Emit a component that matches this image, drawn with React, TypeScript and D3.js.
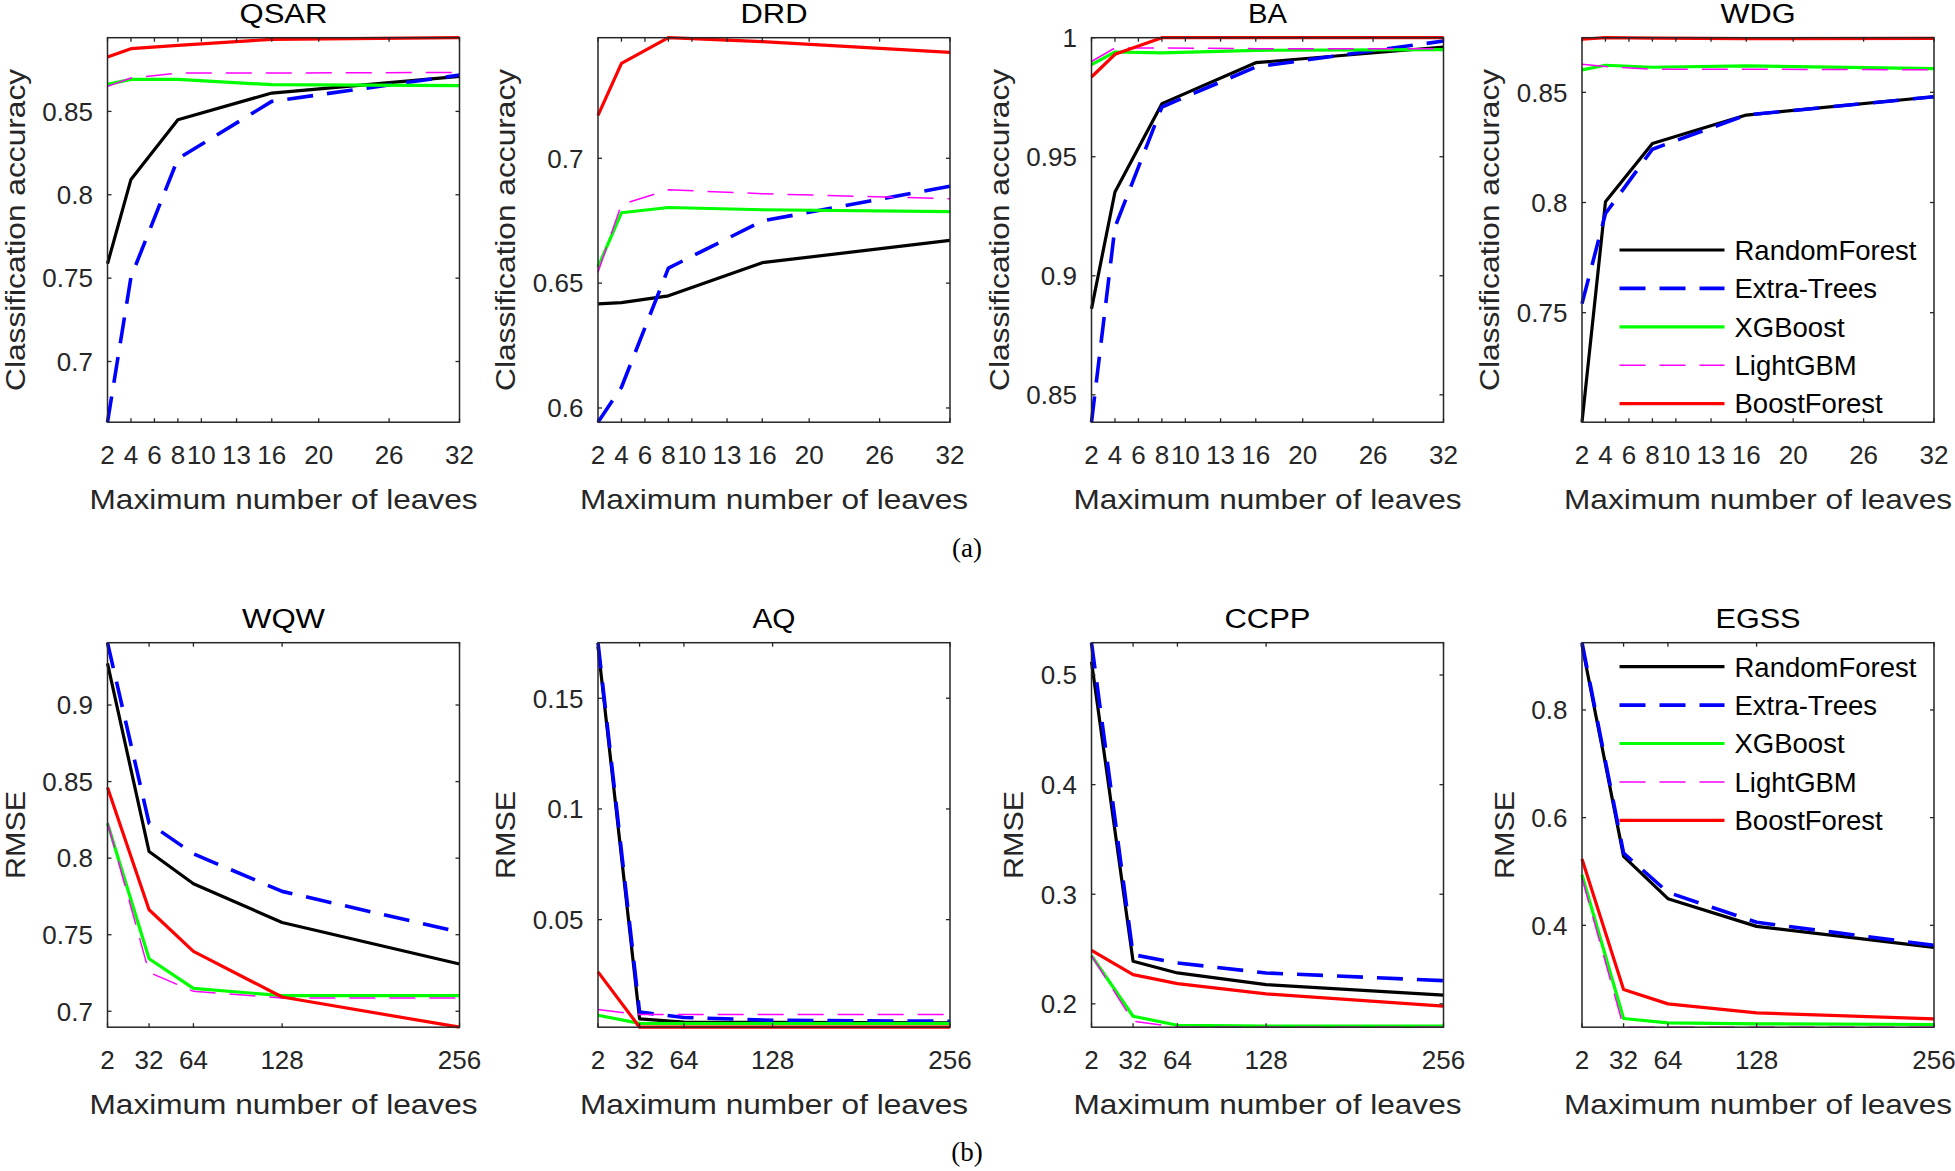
import React from "react";
import * as d3 from "d3";

// ---------- data ----------
const seriesNames = ["RandomForest", "Extra-Trees", "XGBoost", "LightGBM", "BoostForest"];
const leavesA = [2, 4, 8, 16, 32];
const leavesB = [2, 32, 64, 128, 256];
const xTicksA = [2, 4, 6, 8, 10, 13, 16, 20, 26, 32];
const xTicksB = [2, 32, 64, 128, 256];

const qsarRF = [0.7586, 0.8092, 0.845, 0.861, 0.871];
const qsarET = [0.6636, 0.7506, 0.8216, 0.856, 0.8718];
const qsarXGB = [0.8662, 0.8692, 0.8692, 0.866, 0.8654];
const qsarLGBM = [0.865, 0.870, 0.873, 0.873, 0.8734];
const qsarBF = [0.8826, 0.8876, 0.8896, 0.8932, 0.8942];
const qsarYTicks = [0.7, 0.75, 0.8, 0.85];

const drdRF = [0.6417, 0.6422, 0.6449, 0.6582, 0.6671];
const drdET = [0.5943, 0.6083, 0.656, 0.6749, 0.6888];
const drdXGB = [0.6564, 0.6782, 0.6803, 0.6794, 0.6786];
const drdLGBM = [0.6544, 0.6815, 0.6874, 0.6858, 0.6838];
const drdBF = [0.7172, 0.738, 0.7483, 0.7467, 0.7424];
const drdYTicks = [0.6, 0.65, 0.7];

const baRF = [0.8861, 0.9352, 0.9723, 0.9895, 0.9961];
const baET = [0.8385, 0.9204, 0.9709, 0.9877, 0.9986];
const baXGB = [0.9887, 0.994, 0.9936, 0.9947, 0.995];
const baLGBM = [0.99, 0.9957, 0.9957, 0.9954, 0.9954];
const baBF = [0.9835, 0.993, 1.0, 1.0, 1.0];
const baYTicks = [0.85, 0.9, 0.95, 1];

const wdgRF = [0.7003, 0.8003, 0.8268, 0.8397, 0.848];
const wdgET = [0.7541, 0.795, 0.8242, 0.8397, 0.848];
const wdgXGB = [0.8602, 0.8623, 0.8614, 0.862, 0.8608];
const wdgLGBM = [0.8627, 0.8617, 0.8605, 0.8605, 0.8602];
const wdgBF = [0.8741, 0.8748, 0.8746, 0.8744, 0.8745];
const wdgYTicks = [0.75, 0.8, 0.85];

const wqwRF = [0.9272, 0.8043, 0.7833, 0.758, 0.7309];
const wqwET = [0.9407, 0.8228, 0.8028, 0.7783, 0.7517];
const wqwXGB = [0.8228, 0.7343, 0.715, 0.7102, 0.7102];
const wqwLGBM = [0.8233, 0.7254, 0.713, 0.7087, 0.7087];
const wqwBF = [0.8461, 0.7663, 0.7391, 0.7093, 0.6896];
const wqwYTicks = [0.7, 0.75, 0.8, 0.85, 0.9];

const aqRF = [0.1733, 0.0052, 0.0037, 0.0036, 0.0034];
const aqET = [0.1751, 0.0082, 0.0058, 0.0045, 0.0041];
const aqXGB = [0.0068, 0.0031, 0.003, 0.003, 0.003];
const aqLGBM = [0.0094, 0.0071, 0.0071, 0.0071, 0.0071];
const aqBF = [0.0264, 0.0014, 0.0014, 0.0014, 0.0014];
const aqYTicks = [0.05, 0.1, 0.15];

const ccppRF = [0.5121, 0.2388, 0.2282, 0.2176, 0.2079];
const ccppET = [0.5295, 0.2449, 0.2373, 0.2282, 0.2212];
const ccppXGB = [0.244, 0.1887, 0.1805, 0.1796, 0.1796];
const ccppLGBM = [0.244, 0.1842, 0.1787, 0.1787, 0.1787];
const ccppBF = [0.2489, 0.2267, 0.2185, 0.2091, 0.1979];
const ccppYTicks = [0.2, 0.3, 0.4, 0.5];

const egssRF = [0.9206, 0.528, 0.4495, 0.3981, 0.3592];
const egssET = [0.9249, 0.5342, 0.4612, 0.4056, 0.3629];
const egssXGB = [0.494, 0.2269, 0.2189, 0.217, 0.2158];
const egssLGBM = [0.4878, 0.2108, 0.2108, 0.2108, 0.2108];
const egssBF = [0.523, 0.2807, 0.2541, 0.2374, 0.2263];
const egssYTicks = [0.4, 0.6, 0.8];

// ---------- styles ----------
const seriesStyles = [
  { color: "#000000", width: 3.2, dash: null },
  { color: "#0000ff", width: 3.6, dash: "26,14" },
  { color: "#00ff00", width: 3.2, dash: null },
  { color: "#ff00ff", width: 1.5, dash: "26,14" },
  { color: "#ff0000", width: 3.2, dash: null },
];

const FONT = "'Liberation Sans', Arial, Helvetica, sans-serif";
const AX = "#262626";
const colLeft = [107.5, 598, 1091.5, 1582];
const rowTop = [37.7, 642.7];
const plotW = 352;
const plotH = 384.5;
const TICK_FS = 26;

const fmt = (v: number) => String(+v.toFixed(4));
const labelWidth = (s: string) =>
  s.split("").reduce((a, c) => a + (c === "." ? 0.278 : 0.556), 0) * TICK_FS;

type PanelDef = {
  title: string;
  titleLen: number;
  ylabel: string;
  ylabelLen: number;
  leaves: number[];
  xTicks: number[];
  yTicks: number[];
  values: number[][];
  col: number;
  row: number;
  legendRow0?: number;
};

const panels: PanelDef[] = [
  { title: "QSAR", titleLen: 88, ylabel: "Classification accuracy", ylabelLen: 322, leaves: leavesA, xTicks: xTicksA, yTicks: qsarYTicks, values: [qsarRF, qsarET, qsarXGB, qsarLGBM, qsarBF], col: 0, row: 0 },
  { title: "DRD", titleLen: 67, ylabel: "Classification accuracy", ylabelLen: 322, leaves: leavesA, xTicks: xTicksA, yTicks: drdYTicks, values: [drdRF, drdET, drdXGB, drdLGBM, drdBF], col: 1, row: 0 },
  { title: "BA", titleLen: 39, ylabel: "Classification accuracy", ylabelLen: 322, leaves: leavesA, xTicks: xTicksA, yTicks: baYTicks, values: [baRF, baET, baXGB, baLGBM, baBF], col: 2, row: 0 },
  { title: "WDG", titleLen: 75, ylabel: "Classification accuracy", ylabelLen: 322, leaves: leavesA, xTicks: xTicksA, yTicks: wdgYTicks, values: [wdgRF, wdgET, wdgXGB, wdgLGBM, wdgBF], col: 3, row: 0, legendRow0: 212.3 },
  { title: "WQW", titleLen: 83, ylabel: "RMSE", ylabelLen: 88, leaves: leavesB, xTicks: xTicksB, yTicks: wqwYTicks, values: [wqwRF, wqwET, wqwXGB, wqwLGBM, wqwBF], col: 0, row: 1 },
  { title: "AQ", titleLen: 43, ylabel: "RMSE", ylabelLen: 88, leaves: leavesB, xTicks: xTicksB, yTicks: aqYTicks, values: [aqRF, aqET, aqXGB, aqLGBM, aqBF], col: 1, row: 1 },
  { title: "CCPP", titleLen: 86, ylabel: "RMSE", ylabelLen: 88, leaves: leavesB, xTicks: xTicksB, yTicks: ccppYTicks, values: [ccppRF, ccppET, ccppXGB, ccppLGBM, ccppBF], col: 2, row: 1 },
  { title: "EGSS", titleLen: 85, ylabel: "RMSE", ylabelLen: 88, leaves: leavesB, xTicks: xTicksB, yTicks: egssYTicks, values: [egssRF, egssET, egssXGB, egssLGBM, egssBF], col: 3, row: 1, legendRow0: 24 },
];

function Panel({ p }: { p: PanelDef }) {
  const left = colLeft[p.col];
  const top = rowTop[p.row];
  const right = left + plotW;
  const bottom = top + plotH;
  const all = p.values.flat();
  const [lo, hi] = d3.extent(all) as [number, number];
  const x = d3.scaleLinear().domain(d3.extent(p.leaves) as [number, number]).range([left, right]);
  const y = d3.scaleLinear().domain([lo, hi]).range([bottom, top]);
  const line = d3
    .line<number>()
    .x((_, i) => x(p.leaves[i]))
    .y((v) => y(v));
  const tickLen = 4;
  const maxTW = d3.max(p.yTicks, (t) => labelWidth(fmt(t))) as number;
  const ylabX = left - maxTW - 32.3;
  const cx = (left + right) / 2;
  const cy = (top + bottom) / 2;

  return (
    <g>
      {/* lines */}
      {p.values.map((vals, si) => (
        <path
          key={si}
          d={line(vals) as string}
          fill="none"
          stroke={seriesStyles[si].color}
          strokeWidth={seriesStyles[si].width}
          strokeDasharray={seriesStyles[si].dash || undefined}
          strokeLinejoin="round"
        />
      ))}
      {/* box */}
      <rect x={left} y={top} width={plotW} height={plotH} fill="none" stroke={AX} strokeWidth={1.5} />
      {/* x ticks */}
      {p.xTicks.map((t) => (
        <g key={"xt" + t}>
          <line x1={x(t)} x2={x(t)} y1={bottom} y2={bottom - tickLen} stroke={AX} strokeWidth={1.3} />
          <line x1={x(t)} x2={x(t)} y1={top} y2={top + tickLen} stroke={AX} strokeWidth={1.3} />
          <text x={x(t)} y={bottom + 41.5} textAnchor="middle" fontSize={TICK_FS} fill={AX} fontFamily={FONT}>
            {t}
          </text>
        </g>
      ))}
      {/* y ticks */}
      {p.yTicks.map((t) => (
        <g key={"yt" + t}>
          <line x1={left} x2={left + tickLen} y1={y(t)} y2={y(t)} stroke={AX} strokeWidth={1.3} />
          <line x1={right} x2={right - tickLen} y1={y(t)} y2={y(t)} stroke={AX} strokeWidth={1.3} />
          <text x={left - 14.6} y={y(t) + 9.3} textAnchor="end" fontSize={TICK_FS} fill={AX} fontFamily={FONT}>
            {fmt(t)}
          </text>
        </g>
      ))}
      {/* title */}
      <text
        x={cx}
        y={top - 14.3}
        textAnchor="middle"
        fontSize={27}
        fill="#000"
        fontFamily={FONT}
        textLength={p.titleLen}
        lengthAdjust="spacingAndGlyphs"
      >
        {p.title}
      </text>
      {/* x label */}
      <text
        x={cx}
        y={bottom + 87}
        textAnchor="middle"
        fontSize={27.5}
        fill={AX}
        fontFamily={FONT}
        textLength={388}
        lengthAdjust="spacingAndGlyphs"
      >
        Maximum number of leaves
      </text>
      {/* y label */}
      <text
        transform={`translate(${ylabX},${cy}) rotate(-90)`}
        textAnchor="middle"
        fontSize={27.5}
        fill={AX}
        fontFamily={FONT}
        textLength={p.ylabelLen}
        lengthAdjust="spacingAndGlyphs"
      >
        {p.ylabel}
      </text>
      {/* legend */}
      {p.legendRow0 !== undefined &&
        seriesNames.map((name, si) => {
          const ly = top + p.legendRow0! + si * 38.4;
          const lx = left + 37.5;
          return (
            <g key={"lg" + si}>
              <line
                x1={lx}
                x2={lx + 105}
                y1={ly}
                y2={ly}
                stroke={seriesStyles[si].color}
                strokeWidth={seriesStyles[si].width}
                strokeDasharray={seriesStyles[si].dash || undefined}
              />
              <text x={lx + 115} y={ly + 9.8} fontSize={27.5} fill="#000" fontFamily={FONT}>
                {name}
              </text>
            </g>
          );
        })}
    </g>
  );
}

export default function App() {
  return (
    <svg
      width={1955}
      height={1171}
      viewBox="0 0 1955 1171"
      style={{ position: "absolute", left: 0, top: 0, background: "#fff" }}
    >
      <rect x={0} y={0} width={1955} height={1171} fill="#fff" />
      {panels.map((p) => (
        <Panel key={p.title} p={p} />
      ))}
      <text x={967} y={557} textAnchor="middle" fontSize={27} fontFamily="'Liberation Serif', 'DejaVu Serif', serif" fill="#000">
        (a)
      </text>
      <text x={967} y={1161} textAnchor="middle" fontSize={27} fontFamily="'Liberation Serif', 'DejaVu Serif', serif" fill="#000">
        (b)
      </text>
    </svg>
  );
}
